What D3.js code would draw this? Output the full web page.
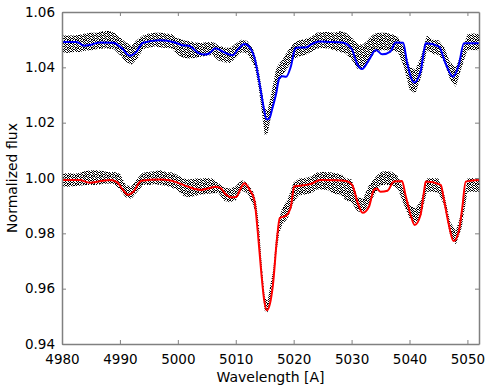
<!DOCTYPE html>
<html>
<head>
<meta charset="utf-8">
<script src="https://cdn.jsdelivr.net/npm/d3@7"></script>
<style>
  body { margin: 0; background: #fff; }
  text { font-family: "DejaVu Sans", sans-serif; }
</style>
</head>
<body>
<svg id="chart" width="491" height="392"></svg>
<script>
"use strict";

// tick labels
const xTicks = [4980, 4990, 5000, 5010, 5020, 5030, 5040, 5050];
const yTicks = [0.94, 0.96, 0.98, 1.0, 1.02, 1.04, 1.06];

// observed spectra: wavelength grid and upper/lower edge of the noisy dots
const obsWave = [
  4980, 4981, 4982, 4983, 4984, 4985, 4986, 4987, 4988, 4989,
  4990, 4991, 4992, 4993, 4994, 4995, 4996, 4997, 4998, 4999,
  5000, 5001, 5002, 5003, 5004, 5005, 5006, 5007, 5008, 5009,
  5010, 5011, 5012, 5013, 5013.5, 5014, 5014.5, 5015, 5015.5, 5016,
  5016.5, 5017, 5017.5, 5018, 5019, 5020, 5021, 5022, 5023, 5024,
  5025, 5026, 5027, 5028, 5029, 5030, 5031, 5032, 5033, 5034,
  5035, 5036, 5037, 5038, 5039, 5040, 5041, 5042, 5043, 5044,
  5045, 5046, 5047, 5048, 5049, 5050, 5051, 5052
];
const obsTopHi = [
  1.0515, 1.0515, 1.0515, 1.0518, 1.0522, 1.0525, 1.0525, 1.0530, 1.0532, 1.0525,
  1.0510, 1.0490, 1.0480, 1.0500, 1.0515, 1.0522, 1.0525, 1.0525, 1.0522, 1.0520,
  1.0505, 1.0498, 1.0495, 1.0490, 1.0488, 1.0492, 1.0492, 1.0480, 1.0472, 1.0470,
  1.0485, 1.0500, 1.0495, 1.0465, 1.0430, 1.0385, 1.0320, 1.0250, 1.0245, 1.0290,
  1.0345, 1.0395, 1.0415, 1.0425, 1.0460, 1.0488, 1.0498, 1.0502, 1.0510, 1.0525,
  1.0528, 1.0528, 1.0525, 1.0530, 1.0525, 1.0508, 1.0485, 1.0482, 1.0505, 1.0522,
  1.0525, 1.0525, 1.0520, 1.0510, 1.0475, 1.0405, 1.0390, 1.0440, 1.0515, 1.0500,
  1.0498, 1.0472, 1.0418, 1.0400, 1.0452, 1.0520, 1.0522, 1.0520
];
const obsTopLo = [
  1.0455, 1.0452, 1.0455, 1.0455, 1.0460, 1.0462, 1.0465, 1.0468, 1.0468, 1.0465,
  1.0445, 1.0420, 1.0410, 1.0430, 1.0465, 1.0472, 1.0475, 1.0472, 1.0470, 1.0468,
  1.0445, 1.0435, 1.0432, 1.0435, 1.0438, 1.0442, 1.0445, 1.0425, 1.0418, 1.0415,
  1.0435, 1.0455, 1.0450, 1.0415, 1.0380, 1.0320, 1.0240, 1.0155, 1.0160, 1.0215,
  1.0270, 1.0320, 1.0350, 1.0370, 1.0400, 1.0428, 1.0440, 1.0445, 1.0455, 1.0468,
  1.0470, 1.0468, 1.0462, 1.0455, 1.0450, 1.0428, 1.0395, 1.0392, 1.0420, 1.0455,
  1.0462, 1.0462, 1.0460, 1.0455, 1.0405, 1.0320, 1.0305, 1.0365, 1.0462, 1.0448,
  1.0445, 1.0420, 1.0355, 1.0330, 1.0400, 1.0462, 1.0463, 1.0462
];
const obsBotHi = [
  1.0015, 1.0018, 1.0015, 1.0018, 1.0025, 1.0028, 1.0028, 1.0025, 1.0022, 1.0022,
  1.0015, 0.9975, 0.9970, 0.9998, 1.0020, 1.0022, 1.0025, 1.0028, 1.0022, 1.0020,
  1.0010, 0.9998, 0.9995, 0.9998, 0.9998, 1.0000, 0.9998, 0.9982, 0.9965, 0.9962,
  0.9970, 0.9993, 0.9982, 0.9950, 0.9915, 0.9830, 0.9680, 0.9570, 0.9555, 0.9615,
  0.9670, 0.9790, 0.9855, 0.9890, 0.9925, 0.9985, 0.9998, 1.0000, 1.0005, 1.0020,
  1.0022, 1.0022, 1.0018, 1.0015, 1.0000, 0.9995, 0.9930, 0.9925, 0.9975, 1.0000,
  1.0022, 1.0025, 1.0022, 1.0005, 0.9958, 0.9902, 0.9890, 0.9920, 0.9998, 1.0000,
  0.9998, 0.9940, 0.9842, 0.9808, 0.9878, 0.9998, 1.0000, 0.9998
];
const obsBotLo = [
  0.9970, 0.9968, 0.9970, 0.9972, 0.9975, 0.9975, 0.9975, 0.9978, 0.9980, 0.9978,
  0.9958, 0.9930, 0.9925, 0.9950, 0.9975, 0.9975, 0.9978, 0.9975, 0.9972, 0.9965,
  0.9955, 0.9935, 0.9930, 0.9935, 0.9940, 0.9942, 0.9945, 0.9946, 0.9918, 0.9912,
  0.9920, 0.9955, 0.9946, 0.9905, 0.9865, 0.9770, 0.9620, 0.9520, 0.9515, 0.9570,
  0.9615, 0.9730, 0.9800, 0.9830, 0.9855, 0.9915, 0.9938, 0.9940, 0.9945, 0.9958,
  0.9958, 0.9956, 0.9942, 0.9940, 0.9920, 0.9912, 0.9880, 0.9875, 0.9905, 0.9940,
  0.9975, 0.9975, 0.9975, 0.9960, 0.9905, 0.9855, 0.9836, 0.9865, 0.9950, 0.9950,
  0.9948, 0.9900, 0.9795, 0.9760, 0.9820, 0.9950, 0.9950, 0.9950
];

// model fit, upper spectrum (blue)
const blueWave = [
  4980, 4982.5, 4983.8, 4985, 4986.5, 4988.8, 4990.3, 4991.7, 4992.8, 4994,
  4996.9, 4999.5, 5000.8, 5002, 5003.5, 5004.5, 5005.4, 5006.5, 5007.5, 5008.3,
  5009.5, 5010.3, 5011.5, 5012.4, 5013.2, 5013.8, 5014.4, 5014.9, 5015.3, 5015.8,
  5016.3, 5017.0, 5017.5, 5018.0, 5018.7, 5019.5, 5020.3, 5021, 5022.1, 5023.2,
  5024.4, 5026, 5028.4, 5029.3, 5030.1, 5031, 5031.8, 5033.0, 5034.2, 5035.3,
  5036.7, 5037.6, 5038.9, 5039.6, 5040.8, 5041.9, 5042.5, 5042.8, 5045.1, 5046.2,
  5047.5, 5048.5, 5049.4, 5052
];
const blueFlux = [
  1.0492, 1.0492, 1.0478, 1.0482, 1.0490, 1.0489, 1.0470, 1.0442, 1.0455, 1.0489,
  1.0498, 1.0490, 1.0480, 1.0477, 1.0452, 1.0446, 1.0450, 1.0469, 1.0460, 1.0451,
  1.0444, 1.0463, 1.0484, 1.0472, 1.0438, 1.0378, 1.0306, 1.0246, 1.0212, 1.0215,
  1.0250, 1.0307, 1.0360, 1.0368, 1.0366, 1.0402, 1.0469, 1.0472, 1.0472, 1.0485,
  1.0493, 1.0492, 1.0490, 1.0482, 1.0463, 1.0410, 1.0394, 1.0427, 1.0463, 1.0447,
  1.0457, 1.0490, 1.0489, 1.0415, 1.0345, 1.0384, 1.0460, 1.0487, 1.0475, 1.0415,
  1.0366, 1.0408, 1.0487, 1.0487
];

// model fit, lower spectrum (red)
const redWave = [
  4980, 4983, 4984.8, 4986.5, 4988.3, 4989.5, 4990.5, 4991.4, 4992.3, 4993.7,
  4996.9, 4998.5, 4999.7, 5001.7, 5003, 5004, 5005.2, 5006.5, 5007.4, 5008.3,
  5009.2, 5010.1, 5010.8, 5011.5, 5012.4, 5013.2, 5013.8, 5014.4, 5014.9, 5015.4,
  5015.9, 5016.4, 5017.1, 5017.6, 5018.7, 5019.5, 5020.1, 5021, 5022.7, 5024.7,
  5027, 5029, 5030.1, 5031, 5031.9, 5033, 5033.8, 5034.3, 5035, 5036.2,
  5037.3, 5038.7, 5039.3, 5040.2, 5040.9, 5041.9, 5042.5, 5042.8, 5045.4, 5045.9,
  5046.8, 5047.6, 5048.5, 5049.1, 5049.7, 5052
];
const redFlux = [
  0.9993, 0.9993, 0.9983, 0.9988, 0.9993, 0.9985, 0.9958, 0.9939, 0.9950, 0.9990,
  0.9995, 0.9992, 0.9985, 0.9969, 0.9960, 0.9957, 0.9962, 0.9968, 0.9963, 0.9940,
  0.9930, 0.9932, 0.9960, 0.9981, 0.9957, 0.9921, 0.9806, 0.9661, 0.9560, 0.9522,
  0.9545, 0.9610, 0.9776, 0.9855, 0.9864, 0.9895, 0.9970, 0.9972, 0.9977, 0.9993,
  0.9992, 0.9989, 0.9975, 0.9914, 0.9874, 0.9896, 0.9955, 0.9962, 0.9950, 0.9954,
  0.9987, 0.9989, 0.9939, 0.9866, 0.9830, 0.9866, 0.9950, 0.9987, 0.9975, 0.9927,
  0.9830, 0.9772, 0.9806, 0.9890, 0.9987, 0.9993
];

const margin = { top: 12, right: 12, bottom: 48, left: 62 };
const width = 491;
const height = 392;

const svg = d3.select("#chart");

const x = d3.scaleLinear()
  .domain([4980, 5052])
  .range([margin.left, width - margin.right]);
const y = d3.scaleLinear()
  .domain([0.94, 1.06])
  .range([height - margin.bottom, margin.top]);

const defs = svg.append("defs");
defs.append("clipPath")
  .attr("id", "plotclip")
  .append("rect")
  .attr("x", margin.left)
  .attr("y", margin.top)
  .attr("width", width - margin.left - margin.right)
  .attr("height", height - margin.top - margin.bottom);

// irregular tile of small black dots, stands in for the dotted noisy spectrum
const dotRows = [
  [0, 3, 5, 6],
  [1, 2, 4, 7],
  [0, 3, 5],
  [1, 4, 6, 7],
  [0, 2, 3, 5],
  [1, 4, 6],
  [0, 2, 5, 7],
  [1, 3, 4, 6]
];
const pat = defs.append("pattern")
  .attr("id", "dots")
  .attr("width", 8)
  .attr("height", 8)
  .attr("patternUnits", "userSpaceOnUse");
dotRows.forEach((cols, row) => {
  cols.forEach((col) => {
    pat.append("rect")
      .attr("x", col)
      .attr("y", row)
      .attr("width", 1)
      .attr("height", 1)
      .attr("fill", "#000");
  });
});

const plot = svg.append("g").attr("clip-path", "url(#plotclip)");

const band = (hi, lo) =>
  d3.area()
    .x((d, i) => x(obsWave[i]))
    .y0((d, i) => y(lo[i]))
    .y1((d, i) => y(hi[i]))(obsWave);

plot.append("path")
  .attr("d", band(obsTopHi, obsTopLo))
  .attr("fill", "url(#dots)");
plot.append("path")
  .attr("d", band(obsBotHi, obsBotLo))
  .attr("fill", "url(#dots)");

const model = (wave, flux) =>
  d3.line()
    .x((d, i) => x(wave[i]))
    .y((d, i) => y(flux[i]))
    .curve(d3.curveMonotoneX)(wave);

plot.append("path")
  .attr("d", model(blueWave, blueFlux))
  .attr("fill", "none")
  .attr("stroke", "#0000ff")
  .attr("stroke-width", 2);
plot.append("path")
  .attr("d", model(redWave, redFlux))
  .attr("fill", "none")
  .attr("stroke", "#ff0000")
  .attr("stroke-width", 2);

// axes, ticks pointing inward on all four sides
const styleAxis = (g) => {
  g.select(".domain").attr("stroke", "#808080").attr("stroke-width", 1.5);
  g.selectAll(".tick line").attr("stroke", "#808080");
  g.selectAll(".tick text").attr("fill", "#000").style("font-size", "13.5px");
};

svg.append("g")
  .attr("transform", `translate(0,${height - margin.bottom})`)
  .call(d3.axisBottom(x).tickValues(xTicks).tickFormat(d3.format("d"))
    .tickSizeInner(-4).tickSizeOuter(0).tickPadding(10))
  .call(styleAxis);
svg.append("g")
  .attr("transform", `translate(0,${margin.top})`)
  .call(d3.axisTop(x).tickValues(xTicks).tickFormat("")
    .tickSizeInner(-4).tickSizeOuter(0))
  .call(styleAxis);
svg.append("g")
  .attr("transform", `translate(${margin.left},0)`)
  .call(d3.axisLeft(y).tickValues(yTicks).tickFormat(d3.format(".2f"))
    .tickSizeInner(-4).tickSizeOuter(0).tickPadding(7))
  .call(styleAxis);
svg.append("g")
  .attr("transform", `translate(${width - margin.right},0)`)
  .call(d3.axisRight(y).tickValues(yTicks).tickFormat("")
    .tickSizeInner(-4).tickSizeOuter(0))
  .call(styleAxis);

svg.append("text")
  .attr("x", (margin.left + width - margin.right) / 2)
  .attr("y", 382)
  .attr("text-anchor", "middle")
  .style("font-size", "14px")
  .text("Wavelength [A]");

svg.append("text")
  .attr("transform", `translate(17,${(margin.top + height - margin.bottom) / 2}) rotate(-90)`)
  .attr("text-anchor", "middle")
  .style("font-size", "14px")
  .text("Normalized flux");
</script>
</body>
</html>
